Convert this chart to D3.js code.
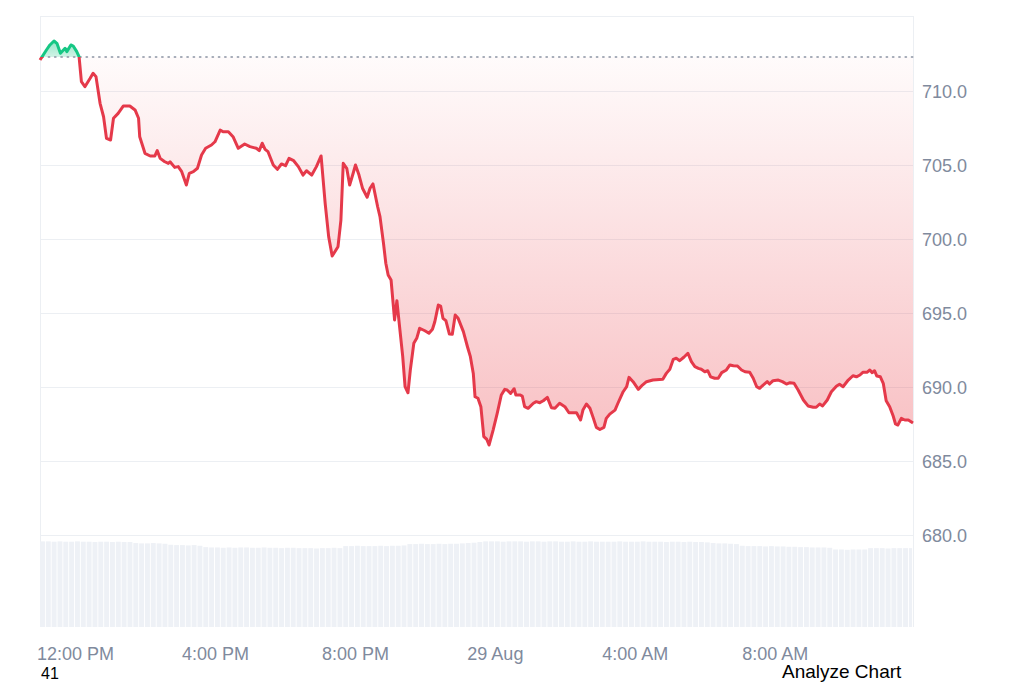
<!DOCTYPE html>
<html>
<head>
<meta charset="utf-8">
<script src="https://cdn.jsdelivr.net/npm/d3@7"></script>
<style>
  html, body { margin: 0; padding: 0; background: #ffffff; }
  svg { display: block; }
  text { font-family: "Liberation Sans", Arial, sans-serif; }
</style>
</head>
<body>
<svg id="chart" width="1024" height="683"></svg>
<script>
// ---------- data ----------
// minutes after 28 Aug 11:00 and price at that moment
const minutes = [0,11,17,24,29,35,43,46,53,57,63,67,71,77,86,91,96,103,109,114,121,126,134,143,154,163,169,171,180,189,197,201,206,214,220,223,231,237,243,251,256,263,270,277,284,294,300,309,314,323,331,340,351,360,371,376,381,386,391,400,407,414,421,427,435,443,451,457,466,474,482,489,495,501,511,516,520,526,531,537,541,547,553,561,566,571,579,583,589,593,597,602,608,612,616,622,626,631,635,641,646,651,660,667,673,677,683,687,691,696,702,707,712,717,726,733,738,743,746,751,756,761,766,770,777,784,791,797,801,807,813,816,823,827,831,837,846,851,857,863,870,877,883,891,900,907,920,927,931,937,943,949,954,960,967,971,977,986,991,1000,1006,1010,1017,1026,1033,1040,1051,1068,1074,1080,1086,1091,1097,1104,1111,1117,1123,1129,1134,1140,1145,1150,1157,1163,1169,1177,1183,1189,1196,1203,1209,1217,1223,1229,1234,1240,1247,1251,1257,1266,1273,1280,1286,1293,1300,1309,1317,1326,1331,1337,1342,1350,1357,1366,1371,1377,1386,1394,1400,1406,1411,1418,1423,1427,1431,1435,1441,1446,1451,1457,1463,1467,1471,1477,1483,1489,1497];
const prices = [712.09,712.77,713.11,713.38,713.22,712.55,712.89,712.66,713.11,713.04,712.66,712.32,710.63,710.29,710.86,711.20,710.97,709.17,708.26,706.80,706.69,708.16,708.49,708.99,708.99,708.72,708.16,706.91,705.79,705.61,705.61,705.97,705.45,705.22,705.11,705.22,704.84,704.89,704.55,703.65,704.44,704.55,704.78,705.68,706.13,706.35,706.57,707.36,707.25,707.25,706.91,706.13,706.42,706.24,706.13,705.97,706.47,706.06,705.90,705.00,704.71,705.07,704.95,705.45,705.29,704.89,704.32,704.61,704.32,704.89,705.61,702.41,700.16,698.85,699.48,701.28,705.11,704.78,703.65,704.44,705.00,704.32,703.43,702.82,703.43,703.72,702.18,701.51,699.71,698.36,697.57,697.23,694.53,695.83,694.30,692.05,690.02,689.61,691.15,692.95,693.29,693.97,693.80,693.63,693.90,694.41,695.54,695.47,694.64,694.48,693.58,693.56,694.86,694.64,693.74,692.72,692.05,690.92,689.34,689.24,688.67,686.64,686.47,686.08,687.09,688.22,689.46,689.84,689.80,689.57,689.88,689.46,689.46,689.39,688.67,688.56,688.90,689.01,688.94,689.07,689.30,688.60,688.56,688.90,688.67,688.26,688.26,687.77,688.44,688.85,688.56,687.88,687.27,687.13,687.27,687.88,688.17,688.44,688.90,689.68,690.02,690.65,690.36,689.84,690.13,690.36,690.47,690.52,690.92,691.20,691.87,691.94,691.78,692.01,692.28,691.71,691.37,691.26,691.20,691.03,691.10,690.69,690.59,690.59,690.97,691.15,691.49,691.44,691.42,691.15,691.03,690.99,690.59,690.02,689.91,690.13,690.36,690.20,690.43,690.47,690.36,690.20,690.29,690.25,689.80,689.12,688.72,688.63,688.63,688.85,688.72,689.12,689.68,690.07,690.18,690.02,690.47,690.76,690.69,690.81,690.99,690.99,691.15,690.97,691.10,690.74,690.69,690.25,689.07,688.67,688.04,687.50,687.43,687.88,687.77,687.77,687.57];
const openPrice = 712.3;

// volume (billions), one bar per 10 minutes from 28 Aug 11:00
const volumes = [25.3,25.3,25.2,25.3,25.2,25.2,25.3,25.2,25.2,25.1,25.2,25.2,25.1,25.2,25.1,25.1,
  24.8,24.7,24.7,24.8,24.7,24.6,
  24.3,24.2,24.2,24.1,24.2,24.0,
  23.6,23.5,23.5,23.4,23.5,23.4,23.5,23.5,23.4,23.4,23.5,23.4,23.4,23.3,23.4,23.4,23.3,
  23.3,23.3,23.2,23.3,23.3,23.4,23.3,
  23.9,23.9,24.0,23.9,23.9,23.9,24.0,23.9,24.0,24.0,24.1,
  24.5,24.5,24.6,24.5,24.5,24.6,24.5,24.6,24.6,24.7,24.8,24.9,25.1,
  25.3,25.3,25.3,25.2,25.3,25.3,25.3,25.2,25.3,25.3,25.2,25.3,25.3,25.2,25.2,25.3,25.2,25.2,25.3,25.2,25.2,
  25.2,25.2,25.3,25.2,25.2,25.2,25.3,25.2,25.2,25.2,25.1,25.2,25.2,25.1,25.2,25.1,25.1,25.0,
  24.8,24.7,24.7,24.6,24.5,
  24.0,23.9,23.9,23.9,23.8,23.9,23.8,23.8,23.7,23.7,23.6,23.6,23.5,23.5,23.5,23.4,
  22.9,22.9,22.8,22.9,22.9,22.9,
  23.3,23.3,23.3,23.2,23.3,23.3,23.3,23.3];
const volumeStep = 10; // minutes

const yTicks = [680, 685, 690, 695, 700, 705, 710];
const xTickMinutes = [60, 300, 540, 780, 1020, 1260];
const xTickLabels = ["12:00 PM", "4:00 PM", "8:00 PM", "29 Aug", "4:00 AM", "8:00 AM"];
const footLeft = "41";
const footRight = "Analyze Chart";

// ---------- setup ----------
const start = new Date(2024, 7, 28, 11, 0);
const t = m => new Date(start.getTime() + m * 60000);
const data = minutes.map((m, i) => ({ date: t(m), price: prices[i] }));

const svg = d3.select("#chart");
const L = 40, R = 913, T = 16, B = 535, VT = 539, VB = 627;

const x = d3.scaleTime().domain([t(minutes[0]), t(minutes[minutes.length - 1])]).range([L, R]);
const y = d3.scaleLinear().domain([680, 715]).range([B, T + 1]);
const yv = d3.scaleLinear().domain([0, 26]).range([VB, VT]);

const RED = "#e5394a", GREEN = "#16c784";
const defs = svg.append("defs");

const baseY = y(openPrice);
const minY = y(d3.min(prices));
const maxY = y(d3.max(prices));

const gRed = defs.append("linearGradient").attr("id", "gRed")
  .attr("gradientUnits", "userSpaceOnUse").attr("x1", 0).attr("x2", 0)
  .attr("y1", baseY).attr("y2", minY);
gRed.append("stop").attr("offset", 0).attr("stop-color", "#ea3943").attr("stop-opacity", 0.02);
gRed.append("stop").attr("offset", 1).attr("stop-color", "#ea3943").attr("stop-opacity", 0.32);

const gGreen = defs.append("linearGradient").attr("id", "gGreen")
  .attr("gradientUnits", "userSpaceOnUse").attr("x1", 0).attr("x2", 0)
  .attr("y1", maxY).attr("y2", baseY);
gGreen.append("stop").attr("offset", 0).attr("stop-color", GREEN).attr("stop-opacity", 0.45);
gGreen.append("stop").attr("offset", 1).attr("stop-color", GREEN).attr("stop-opacity", 0.2);

defs.append("clipPath").attr("id", "below").append("rect")
  .attr("x", 0).attr("y", baseY).attr("width", 1024).attr("height", 683);
defs.append("clipPath").attr("id", "above").append("rect")
  .attr("x", 0).attr("y", 0).attr("width", 1024).attr("height", baseY);

// ---------- frame & grid ----------
const frame = svg.append("g").attr("stroke", "#eceff3").attr("stroke-width", 1).attr("fill", "none");
frame.append("line").attr("x1", L).attr("x2", R).attr("y1", T + 0.5).attr("y2", T + 0.5);
frame.append("line").attr("x1", L + 0.5).attr("x2", L + 0.5).attr("y1", T).attr("y2", VB);
frame.append("line").attr("x1", R + 0.5).attr("x2", R + 0.5).attr("y1", T).attr("y2", VB);

svg.append("g").selectAll("line").data(yTicks).join("line")
  .attr("x1", L).attr("x2", R)
  .attr("y1", d => Math.round(y(d)) + 0.5).attr("y2", d => Math.round(y(d)) + 0.5)
  .attr("stroke", "#eceff3").attr("stroke-width", 1);

// ---------- volume ----------
svg.append("g").selectAll("rect").data(volumes).join("rect")
  .attr("x", (d, i) => x(t(i * volumeStep)))
  .attr("width", (d, i) => Math.max(0, Math.min(R, x(t((i + 1) * volumeStep))) - x(t(i * volumeStep)) - 0.9))
  .attr("y", d => yv(d))
  .attr("height", d => VB - yv(d))
  .attr("fill", "#eef1f6");

// ---------- areas ----------
const area = d3.area().x(d => x(d.date)).y0(baseY).y1(d => y(d.price));
svg.append("path").datum(data).attr("d", area).attr("fill", "url(#gRed)").attr("clip-path", "url(#below)");
svg.append("path").datum(data).attr("d", area).attr("fill", "url(#gGreen)").attr("clip-path", "url(#above)");

// baseline
svg.append("line").attr("x1", L + 2).attr("x2", R).attr("y1", baseY).attr("y2", baseY)
  .attr("stroke", "#8a93a3").attr("stroke-width", 1.4)
  .attr("stroke-dasharray", "1.4 4.9").attr("stroke-linecap", "round");

// lines
const line = d3.line().x(d => x(d.date)).y(d => y(d.price));
svg.append("path").datum(data).attr("d", line).attr("fill", "none").attr("stroke", RED)
  .attr("stroke-width", 3).attr("stroke-linejoin", "round").attr("clip-path", "url(#below)");
svg.append("path").datum(data).attr("d", line).attr("fill", "none").attr("stroke", GREEN)
  .attr("stroke-width", 3).attr("stroke-linejoin", "round").attr("clip-path", "url(#above)");

// ---------- axes ----------
const yAxis = d3.axisRight(y).tickValues(yTicks).tickFormat(d3.format(".1f")).tickSize(0).tickPadding(9);
const gy = svg.append("g").attr("transform", `translate(${R},0)`).call(yAxis);
gy.select(".domain").remove();
gy.selectAll("text").attr("fill", "#808a9d").attr("font-size", 18)
  .attr("font-family", "'Liberation Sans', Arial, sans-serif").attr("dy", "0.36em");

const xAxis = d3.axisBottom(x).tickValues(xTickMinutes.map(t))
  .tickFormat((d, i) => xTickLabels[i]).tickSize(0).tickPadding(0);
const gx = svg.append("g").attr("transform", `translate(0,${VB})`).call(xAxis);
gx.select(".domain").remove();
gx.selectAll("text").attr("fill", "#808a9d").attr("font-size", 18)
  .attr("font-family", "'Liberation Sans', Arial, sans-serif").attr("dy", null).attr("y", 33);

// ---------- footer texts ----------
svg.append("text").attr("x", 41).attr("y", 679).attr("font-size", 16).attr("fill", "#000").text(footLeft);
svg.append("text").attr("x", 782).attr("y", 678).attr("font-size", 19).attr("fill", "#000").text(footRight);
</script>
</body>
</html>
